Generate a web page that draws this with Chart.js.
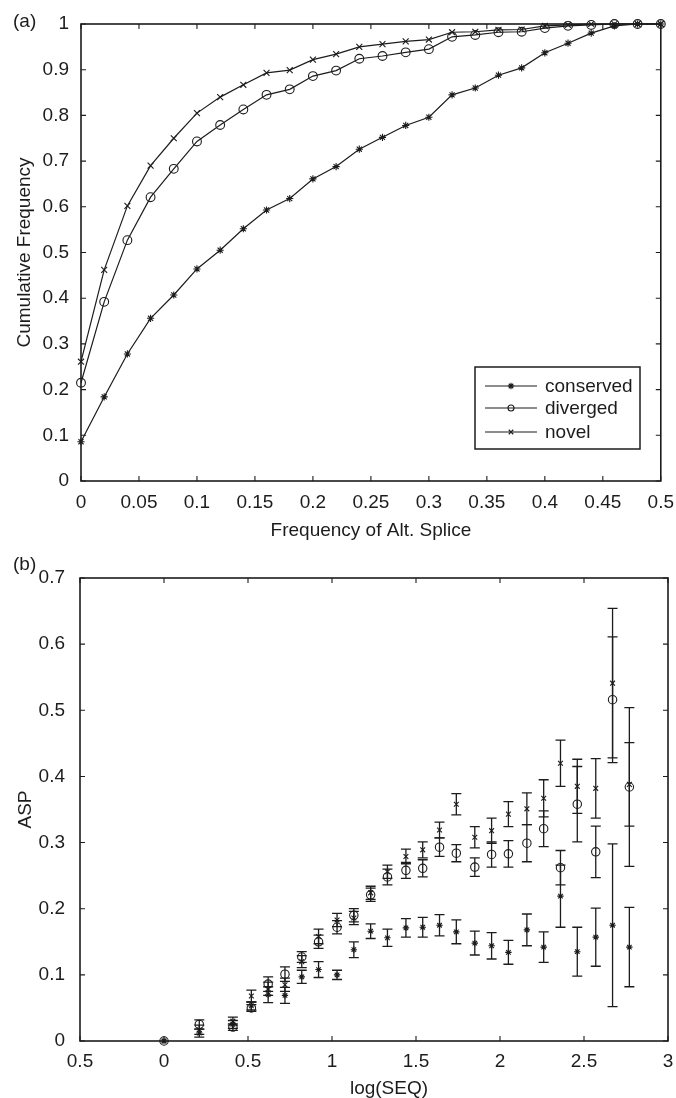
<!DOCTYPE html>
<html>
<head>
<meta charset="utf-8">
<script src="https://cdn.jsdelivr.net/npm/chart.js@4.4.1/dist/chart.umd.min.js"></script>
<style>
  html, body { margin: 0; padding: 0; background: #fff; }
  #wrap { position: relative; width: 676px; height: 1098px; overflow: hidden; }
  canvas { position: absolute; left: 0; }
  #cA { top: 0; }
  #cB { top: 545px; }
</style>
</head>
<body>
<div id="wrap">
  <canvas id="cA" width="676" height="545"></canvas>
  <canvas id="cB" width="676" height="553"></canvas>
</div>
<script>
// ---- (a) cumulative distribution of alternative-splice frequency ----
const freqA = [0, 0.02, 0.04, 0.06, 0.08, 0.10, 0.12, 0.14, 0.16, 0.18, 0.20, 0.22, 0.24,
               0.26, 0.28, 0.30, 0.32, 0.34, 0.36, 0.38, 0.40, 0.42, 0.44, 0.46, 0.48, 0.50];
const conservedA = [0.086, 0.184, 0.278, 0.356, 0.407, 0.464, 0.505, 0.552, 0.593, 0.618, 0.661, 0.688, 0.726,
                    0.752, 0.778, 0.796, 0.845, 0.860, 0.888, 0.904, 0.937, 0.958, 0.980, 0.996, 1, 1];
const divergedA = [0.215, 0.392, 0.527, 0.621, 0.683, 0.743, 0.779, 0.813, 0.845, 0.857, 0.886, 0.898, 0.924,
                   0.930, 0.938, 0.945, 0.972, 0.976, 0.982, 0.983, 0.991, 0.996, 0.998, 1, 1, 1];
const novelA = [0.261, 0.462, 0.602, 0.690, 0.750, 0.805, 0.840, 0.867, 0.893, 0.899, 0.922, 0.934, 0.950,
                0.956, 0.962, 0.966, 0.982, 0.983, 0.987, 0.988, 0.996, 0.998, 1, 1, 1, 1];
const xTicksA = [0, 0.05, 0.1, 0.15, 0.2, 0.25, 0.3, 0.35, 0.4, 0.45, 0.5];
const xTickLabelsA = ['0', '0.05', '0.1', '0.15', '0.2', '0.25', '0.3', '0.35', '0.4', '0.45', '0.5'];
const yTicksA = [0, 0.1, 0.2, 0.3, 0.4, 0.5, 0.6, 0.7, 0.8, 0.9, 1];
const yTickLabelsA = ['0', '0.1', '0.2', '0.3', '0.4', '0.5', '0.6', '0.7', '0.8', '0.9', '1'];

// ---- (b) ASP against log(SEQ), mean with error bars ----
const logSeq = [0, 0.21, 0.41, 0.52, 0.62, 0.72, 0.82, 0.92, 1.03, 1.13, 1.23, 1.33, 1.44,
                1.54, 1.64, 1.74, 1.85, 1.95, 2.05, 2.16, 2.26, 2.36, 2.46, 2.57, 2.67, 2.77];
const conservedB = [0, 0.012, 0.025, 0.053, 0.070, 0.069, 0.097, 0.108, 0.100, 0.138, 0.166, 0.156, 0.171,
                    0.172, 0.175, 0.165, 0.148, 0.144, 0.134, 0.168, 0.142, 0.219, 0.135, 0.157, 0.175, 0.142];
const conservedErr = [0, 0.006, 0.006, 0.006, 0.012, 0.012, 0.010, 0.012, 0.007, 0.012, 0.011, 0.013, 0.014,
                      0.015, 0.016, 0.018, 0.018, 0.020, 0.018, 0.024, 0.023, 0.047, 0.037, 0.044, 0.123, 0.060];
const divergedB = [0, 0.025, 0.021, 0.050, 0.086, 0.101, 0.127, 0.150, 0.172, 0.190, 0.221, 0.248, 0.258,
                   0.261, 0.293, 0.284, 0.263, 0.282, 0.283, 0.299, 0.321, 0.262, 0.358, 0.286, 0.516, 0.384];
const divergedErr = [0, 0.007, 0.005, 0.005, 0.011, 0.011, 0.008, 0.010, 0.010, 0.010, 0.010, 0.012, 0.012,
                     0.013, 0.014, 0.013, 0.014, 0.019, 0.020, 0.028, 0.027, 0.026, 0.057, 0.039, 0.095, 0.120];
const novelB = [0, 0.017, 0.030, 0.068, 0.079, 0.085, 0.120, 0.158, 0.183, 0.186, 0.224, 0.256, 0.279,
                0.289, 0.319, 0.358, 0.308, 0.318, 0.343, 0.351, 0.367, 0.420, 0.385, 0.382, 0.541, 0.388];
const novelErr = [0, 0.007, 0.006, 0.009, 0.010, 0.010, 0.009, 0.011, 0.010, 0.010, 0.010, 0.010, 0.011,
                  0.012, 0.012, 0.016, 0.016, 0.019, 0.019, 0.024, 0.028, 0.035, 0.041, 0.045, 0.113, 0.063];
const xTicksB = [-0.5, 0, 0.5, 1, 1.5, 2, 2.5, 3];
const xTickLabelsB = ['0.5', '0', '0.5', '1', '1.5', '2', '2.5', '3'];
const yTicksB = [0, 0.1, 0.2, 0.3, 0.4, 0.5, 0.6, 0.7];
const yTickLabelsB = ['0', '0.1', '0.2', '0.3', '0.4', '0.5', '0.6', '0.7'];

const seriesNames = ['conserved', 'diverged', 'novel'];
const markStyles = ['star', 'circle', 'crossRot'];

const FONT = '"Liberation Sans", Arial, Helvetica, sans-serif';
const INK = '#1c1c1c';
const FS = 19;

Chart.defaults.font.family = FONT;
Chart.defaults.font.size = FS;
Chart.defaults.color = INK;

function pts(xs, ys) { return xs.map((x, i) => ({ x: x, y: ys[i] })); }

// hand-drawn marker glyphs for the legend
function drawMark(ctx, style, cx, cy, r) {
  ctx.beginPath();
  if (style === 'circle') {
    ctx.arc(cx, cy, r, 0, Math.PI * 2);
  } else {
    const d = r * Math.SQRT1_2;
    if (style === 'star') {
      ctx.moveTo(cx, cy - r); ctx.lineTo(cx, cy + r);
      ctx.moveTo(cx - r, cy); ctx.lineTo(cx + r, cy);
    }
    ctx.moveTo(cx - d, cy - d); ctx.lineTo(cx + d, cy + d);
    ctx.moveTo(cx - d, cy + d); ctx.lineTo(cx + d, cy - d);
  }
  ctx.stroke();
}

// boxed axes with inward ticks on all four sides, plus free text items
const boxFrame = {
  id: 'boxFrame',
  afterDatasetsDraw(chart, args, opts) {
    const { ctx, chartArea: a, scales } = chart;
    const x = scales.x, y = scales.y;
    ctx.save();
    ctx.strokeStyle = INK;
    ctx.lineWidth = 1.6;
    ctx.strokeRect(a.left, a.top, a.right - a.left, a.bottom - a.top);
    ctx.lineWidth = 1.1;
    const len = 5;
    ctx.beginPath();
    x.ticks.forEach(t => {
      const px = x.getPixelForValue(t.value);
      ctx.moveTo(px, a.bottom); ctx.lineTo(px, a.bottom - len);
      ctx.moveTo(px, a.top); ctx.lineTo(px, a.top + len);
    });
    y.ticks.forEach(t => {
      const py = y.getPixelForValue(t.value);
      ctx.moveTo(a.left, py); ctx.lineTo(a.left + len, py);
      ctx.moveTo(a.right, py); ctx.lineTo(a.right - len, py);
    });
    ctx.stroke();
    ctx.fillStyle = INK;
    ctx.font = FS + 'px ' + FONT;
    ctx.textBaseline = 'alphabetic';
    (opts.texts || []).forEach(t => {
      ctx.textAlign = t.align || 'left';
      ctx.fillText(t.text, t.x, t.y);
    });
    ctx.restore();
  }
};

// boxed legend placed inside the plot area
const boxLegend = {
  id: 'boxLegend',
  afterDraw(chart, args, opts) {
    if (!opts.box) return;
    const { ctx } = chart;
    const b = opts.box;
    ctx.save();
    ctx.fillStyle = '#fff';
    ctx.fillRect(b.left, b.top, b.width, b.height);
    ctx.strokeStyle = INK;
    ctx.lineWidth = 1.5;
    ctx.strokeRect(b.left, b.top, b.width, b.height);
    ctx.font = FS + 'px ' + FONT;
    ctx.textBaseline = 'middle';
    ctx.textAlign = 'left';
    chart.data.datasets.forEach((ds, i) => {
      const cy = b.top + opts.rows[i];
      ctx.lineWidth = 1.1;
      ctx.beginPath();
      ctx.moveTo(b.left + opts.lineFrom, cy);
      ctx.lineTo(b.left + opts.lineTo, cy);
      ctx.stroke();
      drawMark(ctx, ds.pointStyle, b.left + (opts.lineFrom + opts.lineTo) / 2, cy, ds.pointStyle === 'circle' ? 3 : 3.2);
      ctx.fillStyle = INK;
      ctx.fillText(ds.label, b.left + opts.textAt, cy + 1);
    });
    ctx.restore();
  }
};

// vertical error bars with caps, read from each dataset's errors array
const errorBars = {
  id: 'errorBars',
  beforeDatasetsDraw(chart) {
    const { ctx, scales: { x, y } } = chart;
    ctx.save();
    ctx.strokeStyle = INK;
    ctx.lineWidth = 1.3;
    chart.data.datasets.forEach(ds => {
      if (!ds.errors) return;
      ds.data.forEach((p, i) => {
        const e = ds.errors[i];
        if (!e) return;
        const px = x.getPixelForValue(p.x);
        const y1 = y.getPixelForValue(p.y + e);
        const y0 = y.getPixelForValue(p.y - e);
        const cap = 5;
        ctx.beginPath();
        ctx.moveTo(px, y1); ctx.lineTo(px, y0);
        ctx.moveTo(px - cap, y1); ctx.lineTo(px + cap, y1);
        ctx.moveTo(px - cap, y0); ctx.lineTo(px + cap, y0);
        ctx.stroke();
      });
    });
    ctx.restore();
  }
};

// scale options with an explicit tick list and matching label list
function fixedScale(base, values, labels, pad) {
  return Object.assign({
    grid: { display: false },
    border: { display: false },
    afterBuildTicks: s => { s.ticks = values.map(v => ({ value: v })); },
    ticks: {
      autoSkip: false, maxRotation: 0, minRotation: 0, padding: pad,
      callback: (v, i) => labels[i]
    }
  }, base);
}

// ---------- chart (a) ----------
const markA = { star: 3.6, circle: 4.4, crossRot: 4.2 };
const seriesA = [conservedA, divergedA, novelA];
new Chart(document.getElementById('cA'), {
  type: 'line',
  data: {
    datasets: seriesA.map((ys, i) => ({
      label: seriesNames[i],
      data: pts(freqA, ys),
      borderColor: INK,
      borderWidth: 1.2,
      tension: 0,
      pointStyle: markStyles[i],
      pointRadius: markA[markStyles[i]],
      pointBorderColor: INK,
      pointBackgroundColor: 'rgba(0,0,0,0)',
      pointBorderWidth: 1.1,
      clip: false
    }))
  },
  options: {
    responsive: false,
    animation: false,
    events: [],
    layout: { padding: { top: 24, right: 15, left: 0, bottom: 0 } },
    scales: {
      x: fixedScale({
        type: 'linear', min: 0, max: 0.5,
        title: { display: true, text: 'Frequency of Alt. Splice', padding: { top: 0, bottom: 3 } },
        afterFit: s => { s.height = 64; }
      }, xTicksA, xTickLabelsA, 2),
      y: fixedScale({
        type: 'linear', min: 0, max: 1,
        title: { display: true, text: 'Cumulative Frequency', padding: { top: 13, bottom: 0 } },
        afterFit: s => { s.width = 81; }
      }, yTicksA, yTickLabelsA, 4)
    },
    plugins: {
      legend: { display: false },
      tooltip: { enabled: false },
      boxFrame: { texts: [{ text: '(a)', x: 13, y: 27 }] },
      boxLegend: {
        box: { left: 475, top: 367, width: 165, height: 82 },
        rows: [19, 41, 65],
        lineFrom: 10, lineTo: 62, textAt: 70
      }
    }
  },
  plugins: [boxFrame, boxLegend]
});

// ---------- chart (b) ----------
const markB = { star: 3.2, circle: 4.2, crossRot: 3.4 };
const seriesB = [conservedB, divergedB, novelB];
const errsB = [conservedErr, divergedErr, novelErr];
new Chart(document.getElementById('cB'), {
  type: 'scatter',
  data: {
    datasets: seriesB.map((ys, i) => ({
      label: seriesNames[i],
      data: pts(logSeq, ys),
      errors: errsB[i],
      showLine: false,
      pointStyle: markStyles[i],
      pointRadius: markB[markStyles[i]],
      pointBorderColor: INK,
      pointBackgroundColor: 'rgba(0,0,0,0)',
      pointBorderWidth: 1.1,
      clip: false
    }))
  },
  options: {
    responsive: false,
    animation: false,
    events: [],
    layout: { padding: { top: 33, right: 8, left: 0, bottom: 0 } },
    scales: {
      x: fixedScale({
        type: 'linear', min: -0.5, max: 3,
        title: { display: false },
        afterFit: s => { s.height = 57; }
      }, xTicksB, xTickLabelsB, 1),
      y: fixedScale({
        type: 'linear', min: 0, max: 0.7,
        title: { display: true, text: 'ASP', padding: { top: 14, bottom: 0 } },
        afterFit: s => { s.width = 80; }
      }, yTicksB, yTickLabelsB, 7)
    },
    plugins: {
      legend: { display: false },
      tooltip: { enabled: false },
      boxFrame: { texts: [{ text: '(b)', x: 13, y: 25 }, { text: 'log(SEQ)', x: 389, y: 549, align: 'center' }] }
    }
  },
  plugins: [errorBars, boxFrame]
});
</script>
</body>
</html>
